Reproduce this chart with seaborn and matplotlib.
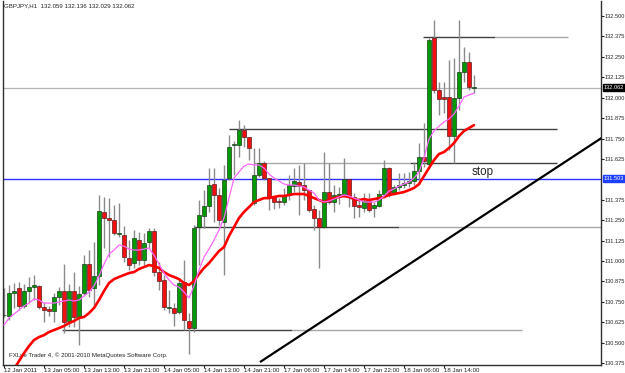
import numpy as np
import pandas as pd
import matplotlib
matplotlib.use("Agg")
import matplotlib.pyplot as plt
import seaborn as sns
from matplotlib import font_manager

# ---------------- data (GBPJPY H1) ----------------
tick_bars = [0, 8, 16, 24, 32, 40, 48, 56, 64, 72, 80, 88]
tick_labels = ["12 Jan 2011", "13 Jan 05:00", "13 Jan 13:00", "13 Jan 21:00",
               "14 Jan 05:00", "14 Jan 13:00", "14 Jan 21:00", "17 Jan 06:00",
               "17 Jan 14:00", "17 Jan 22:00", "18 Jan 06:00", "18 Jan 14:00"]

opens = [130.667, 130.663, 130.804, 130.834, 130.724, 130.816, 130.840, 130.847, 130.718, 130.706,
         130.693, 130.779, 130.816, 130.632, 130.816, 130.657, 130.804, 130.981, 130.834, 130.908,
         131.300, 131.263, 131.251, 131.165, 131.159, 131.018, 130.987, 131.128, 131.006, 131.116,
         131.183, 130.932, 130.883, 130.712, 130.712, 130.687, 130.871, 130.632, 130.589, 131.208,
         131.275, 131.336, 131.471, 131.404, 131.238, 131.508, 131.710, 131.710, 131.802, 131.759,
         131.355, 131.526, 131.600, 131.508, 131.392, 131.367, 131.361, 131.404, 131.459, 131.484,
         131.465, 131.434, 131.318, 131.263, 131.208, 131.422, 131.361, 131.404, 131.410, 131.502,
         131.392, 131.343, 131.324, 131.367, 131.324, 131.336, 131.410, 131.569, 131.416, 131.453,
         131.465, 131.477, 131.490, 131.551, 131.637, 131.594, 132.365, 132.047, 132.004, 132.004,
         131.765, 131.998, 132.157, 132.218, 132.059]
highs = [130.834, 130.853, 130.865, 130.871, 130.859, 130.902, 130.914, 130.853, 130.749, 130.724,
         130.804, 130.840, 130.981, 130.859, 130.932, 130.847, 131.036, 131.067, 131.116, 131.404,
         131.392, 131.385, 131.343, 131.355, 131.214, 131.128, 131.189, 131.177, 131.171, 131.202,
         131.202, 130.993, 130.914, 130.822, 130.742, 130.883, 131.006, 130.681, 131.220, 131.373,
         131.434, 131.569, 131.569, 131.447, 131.588, 131.771, 131.734, 131.863, 131.832, 131.759,
         131.692, 131.692, 131.612, 131.508, 131.398, 131.385, 131.447, 131.526, 131.569, 131.588,
         131.600, 131.434, 131.343, 131.312, 131.667, 131.600, 131.465, 131.453, 131.630, 131.502,
         131.416, 131.385, 131.416, 131.416, 131.361, 131.434, 131.618, 131.575, 131.465, 131.539,
         131.539, 131.545, 131.606, 131.722, 131.845, 132.365, 132.476, 132.096, 132.096, 132.231,
         132.243, 132.476, 132.310, 132.280, 132.136]
lows = [130.657, 130.638, 130.712, 130.700, 130.712, 130.742, 130.761, 130.706, 130.626, 130.663,
        130.626, 130.730, 130.559, 130.595, 130.595, 130.485, 130.785, 130.779, 130.712, 130.853,
        131.079, 131.024, 131.159, 131.147, 130.993, 130.944, 130.957, 130.975, 130.975, 131.079,
        130.908, 130.822, 130.700, 130.681, 130.602, 130.675, 130.577, 130.430, 130.565, 130.975,
        131.202, 131.300, 131.238, 131.220, 130.914, 131.496, 131.526, 131.637, 131.698, 131.618,
        131.343, 131.514, 131.496, 131.312, 131.318, 131.324, 131.343, 131.373, 131.422, 131.281,
        131.373, 131.300, 131.189, 130.957, 131.202, 131.349, 131.300, 131.349, 131.392, 131.330,
        131.263, 131.269, 131.300, 131.300, 131.269, 131.330, 131.385, 131.392, 131.404, 131.434,
        131.447, 131.453, 131.465, 131.465, 131.575, 131.575, 132.028, 131.894, 131.906, 131.679,
        131.600, 131.924, 132.096, 132.047, 132.029]
closes = [130.671, 130.804, 130.816, 130.724, 130.816, 130.840, 130.853, 130.718, 130.700, 130.693,
          130.779, 130.816, 130.626, 130.816, 130.657, 130.798, 130.981, 130.822, 130.908, 131.306,
          131.263, 131.251, 131.171, 131.171, 131.024, 130.975, 131.140, 131.006, 131.110, 131.183,
          130.932, 130.877, 130.718, 130.718, 130.681, 130.865, 130.638, 130.589, 131.202, 131.281,
          131.336, 131.465, 131.404, 131.251, 131.496, 131.698, 131.712, 131.802, 131.759, 131.692,
          131.526, 131.600, 131.508, 131.392, 131.361, 131.361, 131.404, 131.465, 131.490, 131.459,
          131.434, 131.312, 131.263, 131.208, 131.422, 131.361, 131.404, 131.410, 131.502, 131.392,
          131.336, 131.330, 131.367, 131.312, 131.343, 131.410, 131.569, 131.416, 131.453, 131.465,
          131.477, 131.490, 131.551, 131.637, 131.612, 132.353, 132.047, 131.992, 131.992, 131.765,
          131.998, 132.157, 132.218, 132.065, 132.062]

ma_slow = [130.240, 130.289, 130.338, 130.387, 130.436, 130.479, 130.516, 130.534, 130.546, 130.565,
           130.577, 130.589, 130.602, 130.620, 130.632, 130.651, 130.657, 130.681, 130.712, 130.761,
           130.816, 130.865, 130.889, 130.902, 130.914, 130.926, 130.932, 130.951, 130.963, 130.975,
           130.969, 130.957, 130.932, 130.914, 130.902, 130.889, 130.865, 130.853, 130.877, 130.920,
           130.957, 130.987, 131.024, 131.061, 131.085, 131.153, 131.208, 131.263, 131.300, 131.330,
           131.361, 131.373, 131.385, 131.385, 131.392, 131.398, 131.398, 131.404, 131.410, 131.410,
           131.410, 131.398, 131.385, 131.373, 131.361, 131.373, 131.385, 131.392, 131.398, 131.392,
           131.379, 131.373, 131.379, 131.373, 131.379, 131.385, 131.392, 131.404, 131.410, 131.416,
           131.422, 131.434, 131.447, 131.471, 131.520, 131.569, 131.618, 131.655, 131.667, 131.692,
           131.722, 131.765, 131.796, 131.814, 131.832]
ma_fast = [130.608, 130.651, 130.675, 130.700, 130.724, 130.742, 130.767, 130.761, 130.742, 130.742,
           130.742, 130.749, 130.755, 130.761, 130.755, 130.761, 130.785, 130.810, 130.847, 130.908,
           130.981, 131.042, 131.067, 131.098, 131.091, 131.073, 131.067, 131.067, 131.073, 131.079,
           131.036, 130.981, 130.926, 130.883, 130.853, 130.840, 130.810, 130.773, 130.847, 130.944,
           131.024, 131.073, 131.128, 131.189, 131.263, 131.385, 131.508, 131.545, 131.581, 131.594,
           131.588, 131.588, 131.569, 131.532, 131.508, 131.490, 131.471, 131.465, 131.465, 131.459,
           131.453, 131.434, 131.416, 131.373, 131.361, 131.367, 131.379, 131.392, 131.404, 131.398,
           131.385, 131.373, 131.361, 131.361, 131.361, 131.373, 131.398, 131.428, 131.441, 131.459,
           131.471, 131.483, 131.508, 131.545, 131.630, 131.747, 131.796, 131.826, 131.851, 131.869,
           131.900, 131.949, 132.004, 132.016, 132.028]

# drawn objects: horizontal levels (price, start bar, end bar, colour key)
level_prices = [132.371, 132.371, 131.808, 131.603, 131.603, 131.208, 131.208, 130.577, 130.577]
level_starts = [83.8, 98.2, 45.0, 50.0, 81.2, 38.0, 79.0, 11.6, 57.6]
level_ends = [98.2, 112.8, 110.6, 81.2, 110.6, 79.0, 119.4, 57.6, 103.6]
level_dark = [True, False, True, False, True, True, False, True, False]
trend_bars = [51.2, 119.8]
trend_prices = [130.381, 131.759]
stop_price = 131.503
current_price = 132.062
y_ticks = [132.500, 132.375, 132.250, 132.125, 132.000, 131.875, 131.750, 131.625,
           131.375, 131.250, 131.125, 131.000, 130.875, 130.750, 130.625, 130.500, 130.375]
header = "GBPJPY,H1  132.059 132.136 132.029 132.062"
footer = "FXLite Trader 4, \u00a9 2001-2010 MetaQuotes Software Corp."

# ---------------- style ----------------
sns.set_style("white")
names = {f.name for f in font_manager.fontManager.ttflist}
small_font = next((f for f in ["Liberation Sans Narrow", "DejaVu Sans Condensed", "Liberation Sans"]
                   if f in names), "DejaVu Sans")
plt.rcParams["font.family"] = [small_font, "DejaVu Sans"]
FS = 4.4
YFS = 4.1

df = pd.DataFrame({"bar": np.arange(len(opens)), "open": opens, "high": highs,
                   "low": lows, "close": closes, "ma_fast": ma_fast, "ma_slow": ma_slow})

fig = plt.figure(figsize=(6.25, 3.73), dpi=100)
ax = fig.add_axes([3 / 625, 8 / 373, 598 / 625, 364 / 373])
ax.set_xlim(-0.2, 119.4)
ax.set_ylim(130.363, 132.592)

# level / trend objects
ax.axhline(current_price, color="#b4b4b4", lw=0.9, zorder=1)
ax.axhline(stop_price, color="#2f2fff", lw=1.0, zorder=1)
for p, s, e, d in zip(level_prices, level_starts, level_ends, level_dark):
    ax.hlines(p, s, e, color="#404040" if d else "#a8a8a8", lw=1.0, zorder=1)

# wicks
ax.vlines(df["bar"], df["low"], df["high"], color="#8a8a8a", lw=1.0, zorder=2)
# bodies
up = df["close"] >= df["open"]
body_bottom = np.minimum(df["open"], df["close"])
body_h = np.maximum((df["close"] - df["open"]).abs(), 0.004)
ax.bar(df["bar"][up], body_h[up], bottom=body_bottom[up], width=0.7,
       color="#009a00", edgecolor="#1e3d1e", linewidth=0.5, zorder=3)
ax.bar(df["bar"][~up], body_h[~up], bottom=body_bottom[~up], width=0.7,
       color="#f01010", edgecolor="#5a1e1e", linewidth=0.5, zorder=3)

# moving averages via seaborn
sns.lineplot(data=df, x="bar", y="ma_slow", ax=ax, color="#ff0000", lw=1.9, zorder=4)
sns.lineplot(data=df, x="bar", y="ma_fast", ax=ax, color="#ff66ff", lw=0.9, zorder=4)

ax.plot(trend_bars, trend_prices, color="black", lw=1.6, zorder=5, solid_capstyle="butt")

ax.text(93.6, 131.545, "stop", fontsize=8.4, family="Liberation Sans", va="center", ha="left")

# axes cosmetics
ax.set_xlabel("")
ax.set_ylabel("")
ax.spines["top"].set_visible(False)
for s in ["left", "right", "bottom"]:
    ax.spines[s].set_color("#303030")
    ax.spines[s].set_linewidth(1.0)
ax.yaxis.tick_right()
ax.set_yticks(y_ticks)
ax.set_yticklabels([f"{v:.3f}" for v in y_ticks])
ax.tick_params(axis="y", direction="out", length=2, width=0.8, pad=0.8, labelsize=YFS,
               colors="#222222", right=True, left=False)
ax.set_xticks(tick_bars)
ax.set_xticklabels(tick_labels, ha="left")
ax.tick_params(axis="x", direction="out", length=2, width=0.8, pad=0.5, labelsize=FS,
               colors="#222222", bottom=True)
for lbl in ax.get_xticklabels():
    lbl.set_horizontalalignment("left")

# price markers on the axis
ax.text(1.0042, current_price, f"{current_price:.3f}", transform=ax.get_yaxis_transform(),
        fontsize=YFS, color="white", va="center", ha="left",
        bbox=dict(boxstyle="square,pad=0.15", fc="black", ec="black"))
ax.text(1.0042, stop_price, f"{stop_price:.3f}", transform=ax.get_yaxis_transform(),
        fontsize=YFS, color="white", va="center", ha="left",
        bbox=dict(boxstyle="square,pad=0.15", fc="#1f3fff", ec="#1f3fff"))

fig.text(4 / 625, 1 - 6 / 373, header, fontsize=FS, color="#222222", va="center", ha="left")
ax.text(1.0, 130.425, footer, fontsize=FS, color="#222222", va="center", ha="left")

fig.savefig("out.png", dpi=100)
